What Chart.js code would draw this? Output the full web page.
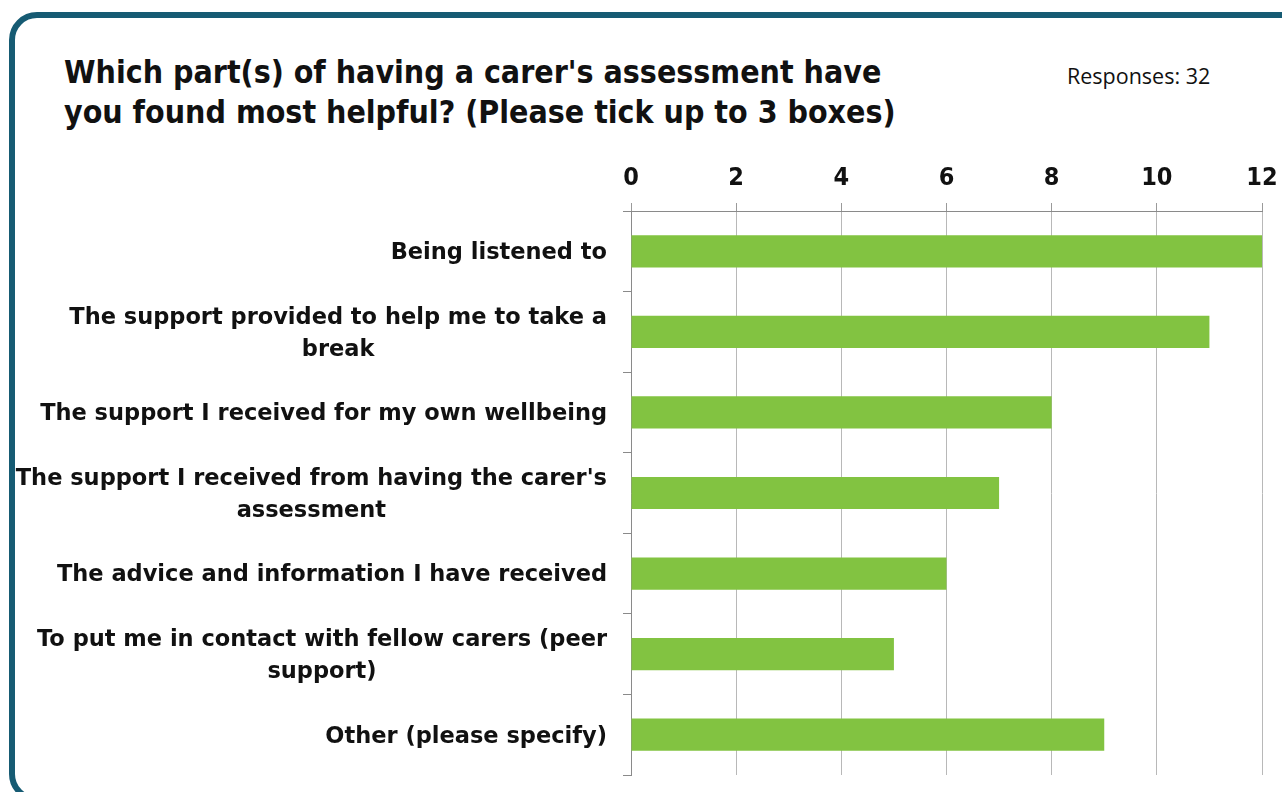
<!DOCTYPE html>
<html>
<head>
<meta charset="utf-8">
<script src="https://cdn.jsdelivr.net/npm/chart.js@4/dist/chart.umd.min.js"></script>
<style>
    html, body { margin: 0; padding: 0; background: #fff; overflow: hidden; }
    body { width: 1282px; height: 792px; position: relative; font-family: "DejaVu Sans Condensed", "DejaVu Sans", sans-serif; }
    #frame {
        position: absolute; left: 9px; top: 12px; width: 1320px; height: 790px;
        border: 6px solid #165b73; border-radius: 28px; box-sizing: border-box;
    }
    #title {
        position: absolute; left: 64px; top: 52px; font-weight: bold; font-size: 31.8px;
        line-height: 40px; color: #111; white-space: nowrap;
    }
    #responses {
        position: absolute; left: 1067px; top: 61px; font-size: 21.5px; color: #111;
        font-family: "Open Sans", "DejaVu Sans", sans-serif;
    }
    #wrap { position: absolute; left: 0; top: 0; width: 1282px; height: 792px; }
</style>
</head>
<body>
<div id="frame"></div>
<div id="title">Which part(s) of having a carer's assessment have<br>you found most helpful? (Please tick up to 3 boxes)</div>
<div id="responses">Responses: 32</div>
<div id="wrap"><canvas id="chart"></canvas></div>
<script>
// 類別（多行標籤）
const categories = [
    ["Being listened to"],
    ["The support provided to help me to take a", "break"],
    ["The support I received for my own wellbeing"],
    ["The support I received from having the carer's", "assessment"],
    ["The advice and information I have received"],
    ["To put me in contact with fellow carers (peer", "support)"],
    ["Other (please specify)"]
];
const counts = [12, 11, 8, 7, 6, 5, 9];
const axisMax = 12;
const axisStep = 2;

const labelFont = 'bold 22.5px "DejaVu Sans", sans-serif';

// 自訂繪製 y 軸標籤：區塊靠右，多行置中
const centeredLabels = {
    id: 'centeredLabels',
    afterDraw(chart) {
        const yScale = chart.scales.y;
        const ctx = chart.ctx;
        const rightEdge = yScale.right - 24;
        const lineH = 32;
        ctx.save();
        ctx.font = labelFont;
        ctx.fillStyle = '#111';
        ctx.textAlign = 'center';
        ctx.textBaseline = 'middle';
        categories.forEach((lines, i) => {
            const y = yScale.getPixelForValue(i) + 2;
            const blockW = Math.max(...lines.map(l => ctx.measureText(l).width));
            const cx = rightEdge - blockW / 2;
            const top = y - (lines.length - 1) * lineH / 2;
            lines.forEach((l, k) => ctx.fillText(l, cx, top + k * lineH));
        });
        ctx.restore();
    }
};

new Chart(document.getElementById('chart'), {
    type: 'bar',
    data: {
        labels: categories,
        datasets: [{
            data: counts,
            backgroundColor: '#82c341',
            borderWidth: 0,
            categoryPercentage: 0.4,
            barPercentage: 1
        }]
    },
    options: {
        indexAxis: 'y',
        responsive: true,
        maintainAspectRatio: false,
        animation: false,
        layout: { padding: { top: 150, right: 20, bottom: 17, left: 0 } },
        plugins: { legend: { display: false }, tooltip: { enabled: false } },
        scales: {
            x: {
                position: 'top',
                min: 0,
                max: axisMax,
                afterFit: s => { s.height = 61; s.paddingRight = 0; s.paddingLeft = 0; },
                ticks: {
                    stepSize: axisStep,
                    color: '#111',
                    padding: 10,
                    font: { family: '"DejaVu Sans Condensed", "DejaVu Sans", sans-serif', size: 25, weight: 'bold' }
                },
                grid: { color: '#b8b8b8', tickColor: '#9a9a9a', tickLength: 8, lineWidth: 1 },
                border: { color: '#8a8a8a', width: 1 }
            },
            y: {
                afterFit: s => { s.width = 631; },
                ticks: { color: 'rgba(0,0,0,0)', font: { size: 20 } },
                grid: { offset: true, drawOnChartArea: false, tickLength: 8, tickColor: '#8a8a8a' },
                border: { color: '#8a8a8a', width: 1 }
            }
        }
    },
    plugins: [centeredLabels]
});
</script>
</body>
</html>
